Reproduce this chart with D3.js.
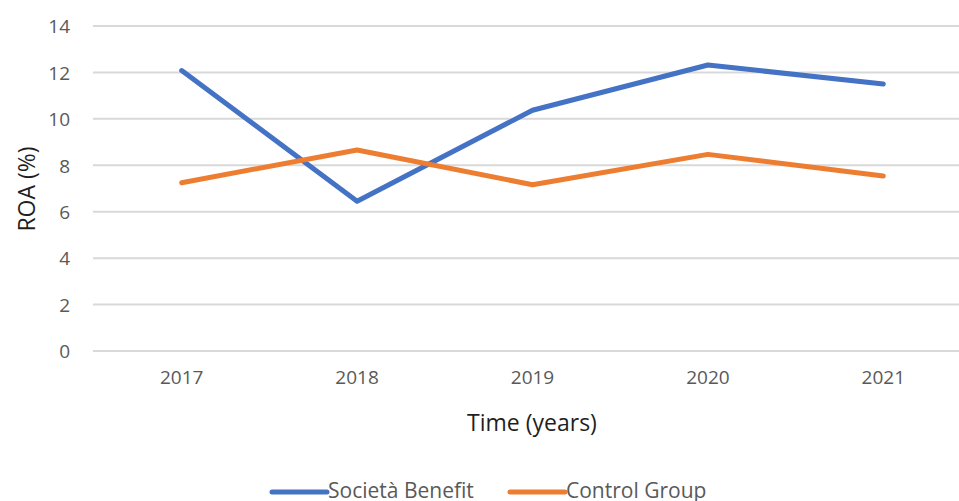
<!DOCTYPE html>
<meta charset="utf-8">
<head>
  <script type="text/javascript" src="https://cdn.jsdelivr.net/npm/d3@7"></script>
</head>
<style type="text/css">
  body {
    margin: 0;
    background: #fff;
    font-family: "Open Sans", sans-serif;
  }
  .grid line {
    stroke: #d9d9d9;
    stroke-width: 2px;
  }
  .tick text {
    fill: #595959;
    font-size: 19px;
  }
  .series {
    fill: none;
    stroke-width: 5px;
    stroke-linejoin: round;
  }
</style>
<body>
</body>
<script type="text/javascript">

var width = 959,
    height = 501;

// data
var years = ["2017", "2018", "2019", "2020", "2021"];
var societaBenefit = [12.08, 6.45, 10.37, 12.32, 11.5];
var controlGroup = [7.25, 8.66, 7.16, 8.47, 7.54];
var seriesNames = ["Società Benefit", "Control Group"];
var seriesColors = ["#4472c4", "#ed7d31"];
var yTicks = [0, 2, 4, 6, 8, 10, 12, 14];

var series = [societaBenefit, controlGroup];

var svg = d3.select("body").append("svg")
    .attr("width", width)
    .attr("height", height);

// plot runs past the right edge of the window, like the original
var x = d3.scaleBand()
    .domain(years)
    .range([94, 971]);

var y = d3.scaleLinear()
    .domain([0, 14])
    .range([351, 26]);

// gridlines
svg.append("g")
    .attr("class", "grid")
  .selectAll("line")
    .data(yTicks)
  .enter().append("line")
    .attr("x1", 93)
    .attr("x2", width)
    .attr("y1", function(d) { return y(d); })
    .attr("y2", function(d) { return y(d); });

// y axis labels
var yAxis = svg.append("g")
    .attr("transform", "translate(70,0)")
    .call(d3.axisLeft(y).tickValues(yTicks).tickSize(0).tickPadding(0))
    .attr("font-family", null)
    .attr("font-size", null);
yAxis.select(".domain").remove();
yAxis.selectAll("text").attr("dy", "0.36em");

// x axis labels
var xAxis = svg.append("g")
    .attr("transform", "translate(0,370)")
    .call(d3.axisBottom(x).tickSize(0).tickPadding(0))
    .attr("font-family", null)
    .attr("font-size", null);
xAxis.select(".domain").remove();
xAxis.selectAll("text").attr("dy", "0.71em");

var line = d3.line()
    .x(function(d, i) { return x(years[i]) + x.bandwidth() / 2; })
    .y(function(d) { return y(d); });

svg.selectAll(".series")
    .data(series)
  .enter().append("path")
    .attr("class", "series")
    .attr("d", line)
    .style("stroke", function(d, i) { return seriesColors[i]; })
    .style("stroke-linecap", "round");

// axis titles
svg.append("text")
    .attr("transform", "translate(35,189) rotate(-90)")
    .attr("text-anchor", "middle")
    .style("font-size", "23px")
    .style("fill", "#1f1f1f")
    .text("ROA (%)");

svg.append("text")
    .attr("x", 532)
    .attr("y", 431)
    .attr("text-anchor", "middle")
    .style("font-size", "23px")
    .style("fill", "#1f1f1f")
    .text("Time (years)");

// legend
var legendX = [272, 510];
var legend = svg.selectAll(".legend")
    .data(seriesNames)
  .enter().append("g")
    .attr("class", "legend")
    .attr("transform", function(d, i) { return "translate(" + legendX[i] + ",492)"; });

legend.append("line")
    .attr("x1", 0)
    .attr("x2", 55)
    .style("stroke", function(d, i) { return seriesColors[i]; })
    .style("stroke-width", 5)
    .style("stroke-linecap", "round");

legend.append("text")
    .attr("x", 56)
    .attr("y", 6)
    .style("font-size", "21px")
    .style("fill", "#595959")
    .text(function(d) { return d; });

</script>
</html>
